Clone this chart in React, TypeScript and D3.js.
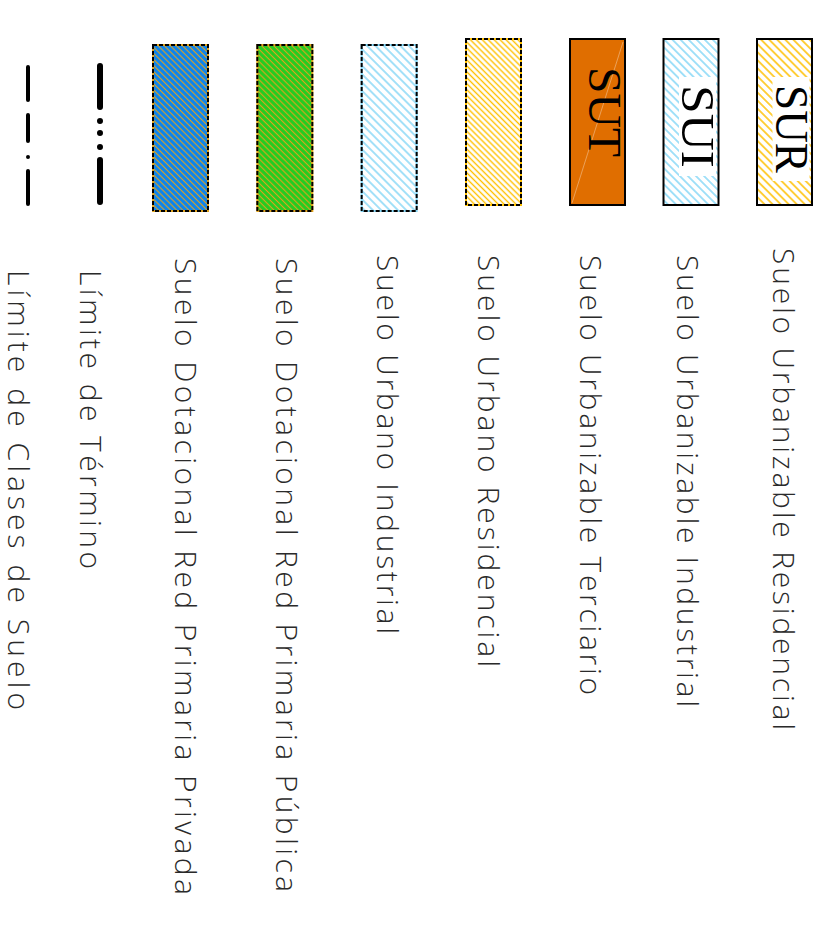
import React from "react";
import * as d3 from "d3";

// ---- data ----
const categories = [
  "Suelo Urbanizable Residencial",
  "Suelo Urbanizable Industrial",
  "Suelo Urbanizable Terciario",
  "Suelo Urbano Residencial",
  "Suelo Urbano Industrial",
  "Suelo Dotacional Red Primaria Pública",
  "Suelo Dotacional Red Primaria Privada",
  "Límite de Término",
  "Límite de Clases de Suelo",
];
const symbolKinds = ["box", "box", "box", "box", "box", "box", "box", "lineTermino", "lineClases"];
const groups = ["A", "A", "A", "B", "B", "B", "B", "C", "C"];
const codes = ["SUR", "SUI", "SUT", "", "", "", "", "", ""];
const fills = ["#ffffff", "#ffffff", "#e06e00", "#ffffff", "#ffffff", "#22cc22", "#0a84f0", "none", "none"];
const hatchKeys = ["yellow", "blue", "", "yellowDense", "blueMid", "orange", "orange", "", ""];
const borderKinds = ["solid", "solid", "solid", "dashed", "dashed", "dashed", "dashed", "", ""];

// ---- styles / layout ----
const W = 827;
const H = 941;
const hatchDefs: Record<string, { color: string; gap: number; width: number }> = {
  yellow: { color: "#ffc000", gap: 5.7, width: 1.5 },
  blue: { color: "#84d6f6", gap: 5.7, width: 1.5 },
  yellowDense: { color: "#ffc000", gap: 4.2, width: 1.4 },
  blueMid: { color: "#84d6f6", gap: 5.9, width: 1.5 },
  orange: { color: "#e0a21c", gap: 4.3, width: 1.1 },
};
const layout = {
  boxWidth: 55,
  boxHeight: 166,
  boxTop: { A: 39, B: 45 } as Record<string, number>,
  boxTopFirstB: 39,
  textStart: [248, 255, 255, 255, 255, 258, 258, 270, 270],
  textLength: [482, 452, 440, 412, 379, 634, 637, 299, 440],
  codeStart: [85, 85, 67],
  codeLength: [88, 83, 90],
  fontSize: 30,
};

export default function App() {
  const idxA = categories.map((_, i) => i).filter((i) => groups[i] === "A");
  const idxB = categories.map((_, i) => i).filter((i) => groups[i] === "B");
  const idxC = categories.map((_, i) => i).filter((i) => groups[i] === "C");

  // box centre scales
  const boxA = d3.scalePoint<number>().domain(idxA).range([784.5, 597.5]);
  const boxB = d3.scalePoint<number>().domain(idxB).range([493.5, 180.5]);
  const lineC = d3.scalePoint<number>().domain(idxC).range([100, 28]);
  // text baseline scales
  const txtA = d3.scalePoint<number>().domain(idxA).range([773, 580]);
  const txtB = d3.scalePoint<number>().domain(idxB).range([478, 175]);
  const txtC = d3.scalePoint<number>().domain(idxC).range([80, 8]);

  const symX = (i: number) =>
    groups[i] === "A" ? boxA(i)! : groups[i] === "B" ? boxB(i)! : lineC(i)!;
  const txtX = (i: number) =>
    groups[i] === "A" ? txtA(i)! : groups[i] === "B" ? txtB(i)! : txtC(i)!;

  const lineY = d3.scaleLinear().domain([0, 1]).range([66, 202]);

  return (
    <>
      <style>{`body{margin:0}`}</style>
      <svg width={W} height={H} viewBox={`0 0 ${W} ${H}`} style={{ display: "block", background: "#fff" }}>
        <defs>
          {Object.entries(hatchDefs).map(([k, h]) => (
            <pattern
              key={k}
              id={`hatch-${k}`}
              width={h.gap}
              height={h.gap}
              patternUnits="userSpaceOnUse"
              patternTransform="rotate(45)"
            >
              <line x1={0} y1={h.gap / 2} x2={h.gap} y2={h.gap / 2} stroke={h.color} strokeWidth={h.width} />
            </pattern>
          ))}
        </defs>

        {categories.map((cat, i) => {
          const cx = symX(i);
          const kind = symbolKinds[i];
          let symbol: React.ReactNode = null;
          if (kind === "box") {
            const top =
              groups[i] === "A" ? layout.boxTop.A : i === idxB[0] ? layout.boxTopFirstB : layout.boxTop.B;
            const x0 = cx - layout.boxWidth / 2;
            const hk = hatchKeys[i];
            const hd = hk ? hatchDefs[hk] : null;
            const code = codes[i];
            symbol = (
              <g>
                <rect x={x0} y={top} width={layout.boxWidth} height={layout.boxHeight} fill={fills[i]} />
                {hd && (
                  <rect x={x0} y={top} width={layout.boxWidth} height={layout.boxHeight} fill={`url(#hatch-${hk})`} />
                )}
                {code === "SUT" && (
                  <line
                    x1={x0 + 2}
                    y1={top + layout.boxHeight - 2}
                    x2={x0 + layout.boxWidth - 2}
                    y2={top + 3}
                    stroke="#ffffff"
                    strokeOpacity={0.35}
                    strokeWidth={1}
                  />
                )}
                {code && hd && (
                  <rect
                    x={cx - 12}
                    y={layout.codeStart[i] - 8}
                    width={37}
                    height={layout.codeLength[i] + 16}
                    fill="#ffffff"
                  />
                )}
                {code && (
                  <text
                    transform={`translate(${cx - 9},${layout.codeStart[i]}) rotate(90)`}
                    fontFamily="'Liberation Serif', 'DejaVu Serif', serif"
                    fontSize={46}
                    fill="#000"
                    textLength={layout.codeLength[i]}
                    lengthAdjust="spacingAndGlyphs"
                  >
                    {code}
                  </text>
                )}
                {borderKinds[i] === "solid" ? (
                  <rect
                    x={x0}
                    y={top}
                    width={layout.boxWidth}
                    height={layout.boxHeight}
                    fill="none"
                    stroke="#000"
                    strokeWidth={2}
                  />
                ) : (
                  <g>
                    <rect
                      x={x0}
                      y={top}
                      width={layout.boxWidth}
                      height={layout.boxHeight}
                      fill="none"
                      stroke={hd ? hd.color : "#000"}
                      strokeWidth={2}
                    />
                    <rect
                      x={x0}
                      y={top}
                      width={layout.boxWidth}
                      height={layout.boxHeight}
                      fill="none"
                      stroke="#000"
                      strokeWidth={2}
                      strokeDasharray="4 2"
                    />
                  </g>
                )}
              </g>
            );
          } else if (kind === "lineTermino") {
            symbol = (
              <line
                x1={cx}
                x2={cx}
                y1={lineY(0)}
                y2={lineY(1)}
                stroke="#000"
                strokeWidth={6}
                strokeLinecap="round"
                strokeDasharray="41 14 0 12 0 14 0 13 42"
              />
            );
          } else {
            symbol = (
              <line
                x1={cx}
                x2={cx}
                y1={lineY(0) + 1}
                y2={lineY(1) + 2}
                stroke="#000"
                strokeWidth={4}
                strokeLinecap="round"
                strokeDasharray="33 15 26 16 0 14 33"
              />
            );
          }
          return (
            <g key={cat}>
              {symbol}
              <text
                transform={`translate(${txtX(i)},${layout.textStart[i]}) rotate(90)`}
                fontFamily="'Open Sans', 'Lato', sans-serif"
                fontWeight={300}
                fontSize={layout.fontSize}
                fill="#2a2a2a"
                textLength={layout.textLength[i]}
                lengthAdjust="spacing"
              >
                {cat}
              </text>
            </g>
          );
        })}
      </svg>
    </>
  );
}
